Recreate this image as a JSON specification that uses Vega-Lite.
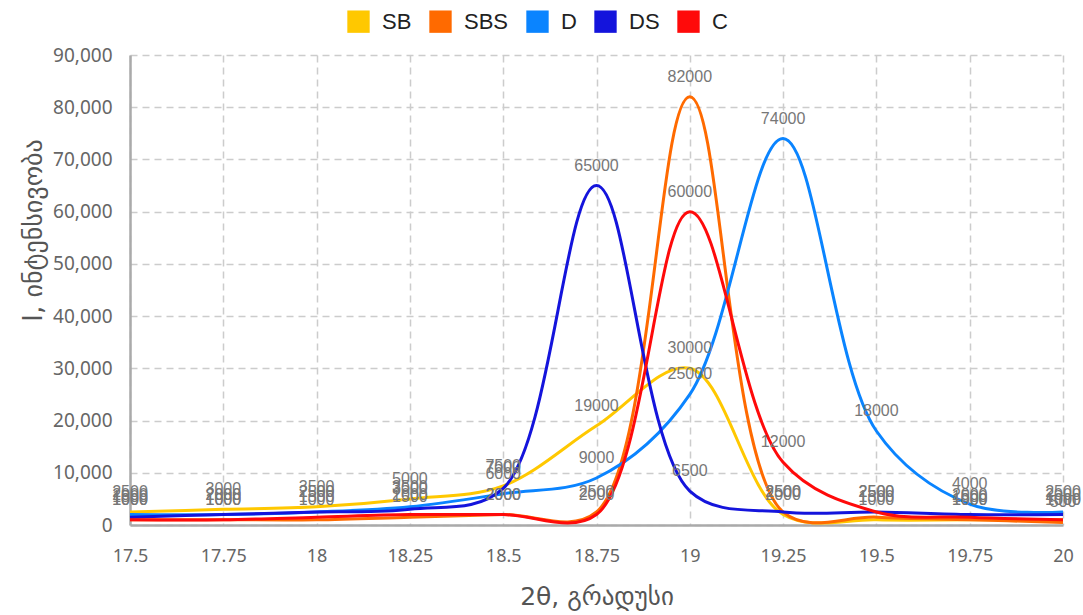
{
  "$schema": "https://vega.github.io/schema/vega-lite/v6.json",
  "width": 933,
  "height": 470,
  "autosize": {"type": "none"},
  "padding": {"left": 130, "top": 55, "right": 20, "bottom": 90},
  "background": "white",
  "view": {"stroke": null},
  "data": {
    "values": [
      {"x": 17.5, "s": "SB", "v": 2500}, {"x": 17.75, "s": "SB", "v": 3000}, {"x": 18, "s": "SB", "v": 3500}, {"x": 18.25, "s": "SB", "v": 5000}, {"x": 18.5, "s": "SB", "v": 7500}, {"x": 18.75, "s": "SB", "v": 19000}, {"x": 19, "s": "SB", "v": 30000}, {"x": 19.25, "s": "SB", "v": 2000}, {"x": 19.5, "s": "SB", "v": 1000}, {"x": 19.75, "s": "SB", "v": 1000}, {"x": 20, "s": "SB", "v": 1000},
      {"x": 17.5, "s": "SBS", "v": 1000}, {"x": 17.75, "s": "SBS", "v": 1000}, {"x": 18, "s": "SBS", "v": 1000}, {"x": 18.25, "s": "SBS", "v": 1500}, {"x": 18.5, "s": "SBS", "v": 2000}, {"x": 18.75, "s": "SBS", "v": 2500}, {"x": 19, "s": "SBS", "v": 82000}, {"x": 19.25, "s": "SBS", "v": 2500}, {"x": 19.5, "s": "SBS", "v": 1500}, {"x": 19.75, "s": "SBS", "v": 1000}, {"x": 20, "s": "SBS", "v": 500},
      {"x": 17.5, "s": "D", "v": 2000}, {"x": 17.75, "s": "D", "v": 2000}, {"x": 18, "s": "D", "v": 2500}, {"x": 18.25, "s": "D", "v": 3500}, {"x": 18.5, "s": "D", "v": 6000}, {"x": 18.75, "s": "D", "v": 9000}, {"x": 19, "s": "D", "v": 25000}, {"x": 19.25, "s": "D", "v": 74000}, {"x": 19.5, "s": "D", "v": 18000}, {"x": 19.75, "s": "D", "v": 4000}, {"x": 20, "s": "D", "v": 2500},
      {"x": 17.5, "s": "DS", "v": 1500}, {"x": 17.75, "s": "DS", "v": 2000}, {"x": 18, "s": "DS", "v": 2500}, {"x": 18.25, "s": "DS", "v": 3000}, {"x": 18.5, "s": "DS", "v": 7000}, {"x": 18.75, "s": "DS", "v": 65000}, {"x": 19, "s": "DS", "v": 6500}, {"x": 19.25, "s": "DS", "v": 2500}, {"x": 19.5, "s": "DS", "v": 2500}, {"x": 19.75, "s": "DS", "v": 2000}, {"x": 20, "s": "DS", "v": 2000},
      {"x": 17.5, "s": "C", "v": 1000}, {"x": 17.75, "s": "C", "v": 1000}, {"x": 18, "s": "C", "v": 1500}, {"x": 18.25, "s": "C", "v": 2000}, {"x": 18.5, "s": "C", "v": 2000}, {"x": 18.75, "s": "C", "v": 2000}, {"x": 19, "s": "C", "v": 60000}, {"x": 19.25, "s": "C", "v": 12000}, {"x": 19.5, "s": "C", "v": 2500}, {"x": 19.75, "s": "C", "v": 1500}, {"x": 20, "s": "C", "v": 1000}
    ]
  },
  "encoding": {
    "x": {
      "field": "x", "type": "quantitative",
      "scale": {"domain": [17.5, 20], "nice": false, "zero": false},
      "axis": {
        "values": [17.5, 17.75, 18, 18.25, 18.5, 18.75, 19, 19.25, 19.5, 19.75, 20],
        "format": ".4~g",
        "labelFont": "Noto Sans", "labelFontSize": 18, "labelColor": "#666", "labelPadding": 22, "labelFlush": false,
        "ticks": false,
        "domainColor": "#aaa", "domainWidth": 2.5,
        "grid": true, "gridDash": [7, 5], "gridColor": "#ccc", "gridWidth": 1.5,
        "title": "2θ, გრადუსი", "titleFont": "DejaVu Sans", "titleFontSize": 25, "titleFontWeight": "normal", "titleColor": "#555", "titlePadding": 19
      }
    },
    "y": {
      "field": "v", "type": "quantitative",
      "scale": {"domain": [0, 90000], "nice": false},
      "axis": {
        "values": [0, 10000, 20000, 30000, 40000, 50000, 60000, 70000, 80000, 90000],
        "format": ",.0f",
        "labelFont": "Noto Sans", "labelFontSize": 19, "labelColor": "#666", "labelPadding": 18,
        "ticks": false,
        "domainColor": "#aaa", "domainWidth": 2.5,
        "grid": true, "gridDash": [7, 5], "gridColor": "#ccc", "gridWidth": 1.5,
        "title": "I, ინტენსივობა", "titleFont": "DejaVu Sans", "titleFontSize": 26, "titleFontWeight": "normal", "titleColor": "#555", "titlePadding": 6, "titleY": 175
      }
    },
    "color": {
      "field": "s", "type": "nominal",
      "scale": {"domain": ["SB", "SBS", "D", "DS", "C"], "range": ["#FFC800", "#FF6A00", "#0A84FF", "#1414DC", "#FF0A0A"]},
      "legend": {
        "title": null, "orient": "none", "legendX": 217, "legendY": -45, "direction": "horizontal",
        "symbolType": "square", "symbolSize": 500, "symbolStrokeWidth": 0,
        "labelFont": "Liberation Sans", "labelFontSize": 22, "labelColor": "#222", "labelOffset": 12,
        "columnPadding": 17,
        "encode": {"symbols": {"update": {"fill": {"scale": "color", "field": "value"}, "opacity": {"value": 1}}}}
      }
    }
  },
  "layer": [
    {
      "mark": {"type": "line", "interpolate": "catmull-rom", "strokeWidth": 3}
    },
    {
      "mark": {"type": "text", "dy": -20, "fontSize": 16, "font": "Liberation Sans", "color": "#777"},
      "encoding": {
        "text": {"field": "v", "type": "quantitative", "format": "d"},
        "color": {"value": "#777"}
      }
    }
  ]
}
